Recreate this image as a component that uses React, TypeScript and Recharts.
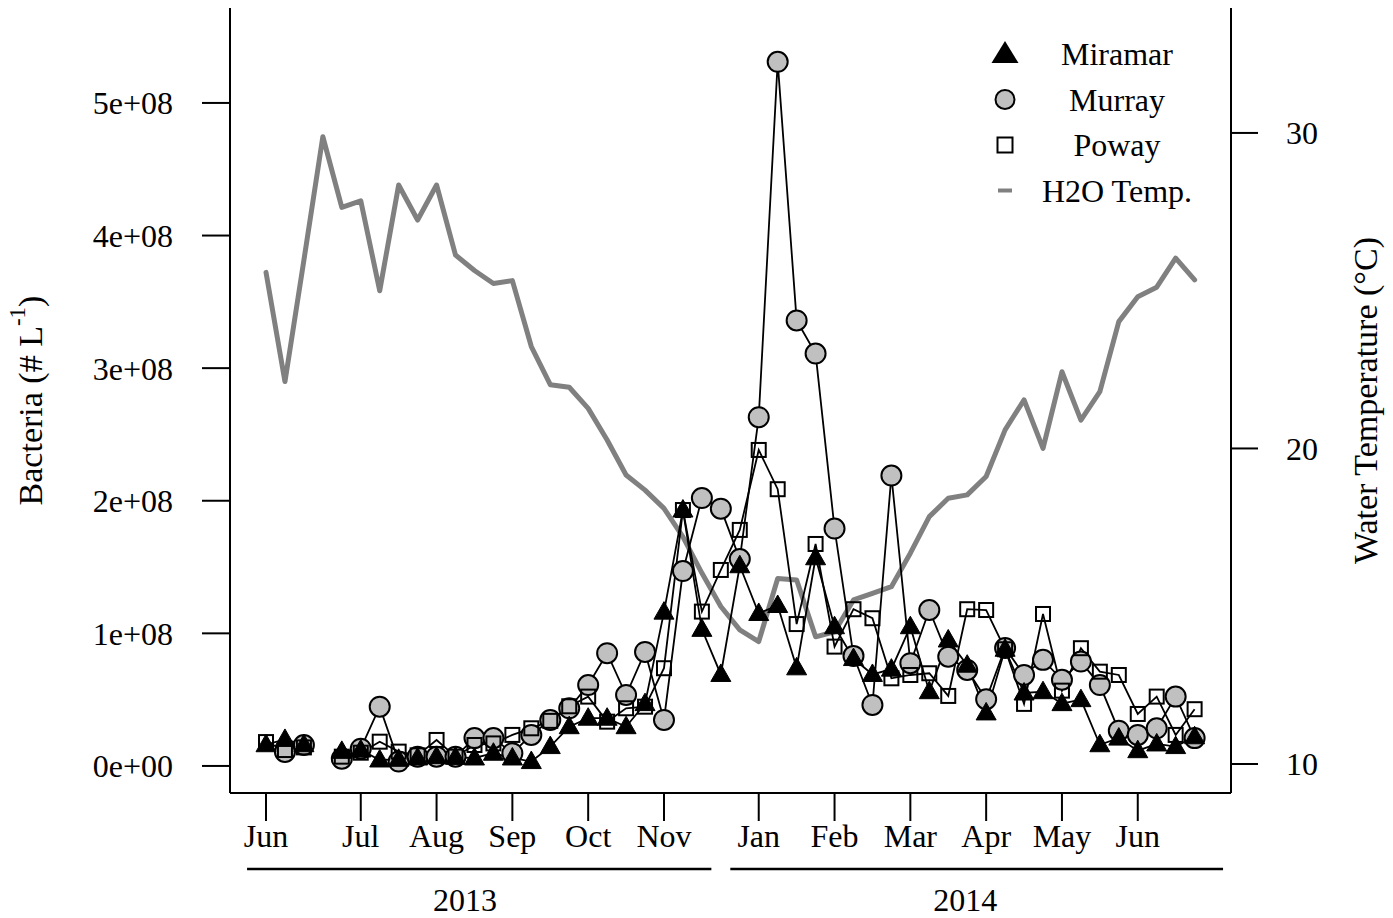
import { ComposedChart, Legend, Line, XAxis, YAxis } from "recharts";

// sample week index (weekly sampling, Jun 2013 - Jun 2014)
const weeks = [
  0, 1, 2, 3, 4, 5, 6, 7, 8, 9, 10, 11, 12, 13, 14, 15, 16, 17, 18, 19, 20, 21, 22, 23, 24,
  25, 26, 27, 28, 29, 30, 31, 32, 33, 34, 35, 36, 37, 38, 39, 40, 41, 42, 43, 44, 45, 46, 47,
  48, 49,
];

// bacteria, # per litre
const miramar = [
  16e6, 20e6, 16e6, null, 11e6, 12e6, 4.5e6, 5e6, 6e6, 7e6, 6.5e6, 6e6, 9.6e6, 6e6, 3.3e6,
  14.6e6, 29.6e6, 36e6, 36e6, 29.6e6, 47e6, 116e6, 193e6, 103e6, 69e6, 151e6, 115e6, 121e6,
  74e6, 157e6, 105e6, 81e6, 69e6, 73e6, 105e6, 56e6, 95e6, 76e6, 40e6, 88e6, 55e6, 56e6, 47e6,
  50e6, 16e6, 21e6, 11.5e6, 16.6e6, 14.6e6, 22e6,
];
const murray = [
  null, 10.6e6, 15.8e6, null, 5.5e6, 13e6, 44.7e6, 3.3e6, 7e6, 7e6, 7e6, 21e6, 21e6, 9.6e6,
  23.4e6, 34.7e6, 43.5e6, 61e6, 85e6, 53.5e6, 86e6, 34.7e6, 147e6, 202e6, 194e6, 156e6, 263e6,
  531e6, 336e6, 311e6, 179e6, 83e6, 46e6, 219e6, 77.5e6, 117.6e6, 82.4e6, 72.4e6, 50.3e6, 89e6,
  68.6e6, 80e6, 65e6, 78.7e6, 61e6, 26.6e6, 23.4e6, 28.4e6, 52.3e6, 21e6,
];
const poway = [
  18e6, 12e6, 14e6, null, 7e6, 10e6, 18.3e6, 10.8e6, 8e6, 19.6e6, 7e6, 15.8e6, 17e6, 23.4e6,
  28.4e6, 34e6, 45e6, 52.3e6, 33.4e6, 43.5e6, 44.7e6, 73.7e6, 193e6, 116.4e6, 147.8e6, 178e6,
  238.3e6, 208.7e6, 107e6, 167.4e6, 90e6, 118.2e6, 111.4e6, 66.1e6, 68.6e6, 69.9e6, 52.8e6,
  118.2e6, 117.6e6, 88e6, 46.8e6, 114.6e6, 56.8e6, 88.8e6, 71.1e6, 68.6e6, 39.2e6, 52.3e6,
  23.4e6, 42.8e6,
];

// water temperature, °C
const waterTemp = [
  25.58, 22.12, 25.97, 29.88, 27.64, 27.85, 25.0, 28.35, 27.24, 28.35, 26.13, 25.64, 25.23,
  25.32, 23.23, 22.02, 21.94, 21.27, 20.27, 19.16, 18.68, 18.1, 17.2, 16.05, 14.99, 14.25, 13.88,
  15.88, 15.83, 14.03, 14.19, 15.2, 15.41, 15.62, 16.68, 17.84, 18.42, 18.53, 19.11, 20.59,
  21.54, 20.0, 22.43, 20.9, 21.8, 24.02, 24.81, 25.11, 26.03, 25.34,
];

const monthTicks = [0, 5, 9, 13, 17, 21, 26, 30, 34, 38, 42, 46];
const monthLabels = ["Jun", "Jul", "Aug", "Sep", "Oct", "Nov", "Jan", "Feb", "Mar", "Apr", "May", "Jun"];
const bacteriaTicks = [0, 1e8, 2e8, 3e8, 4e8, 5e8];
const tempTicks = [10, 20, 30];
const years = ["2013", "2014"];
const yearCenters = [10.5, 36.9];
const yearStarts = [-1, 24.5];
const yearEnds = [23.5, 50.5];

const data = weeks.map((w, i) => ({
  week: w,
  miramar: miramar[i],
  murray: murray[i],
  poway: poway[i],
  temp: waterTemp[i],
}));

const FONT = '"Liberation Serif", "Times New Roman", Times, serif';
const W = 1393;
const H = 918;
const LEFT_W = 230;
const RIGHT_W = 162;
const PLOT_W = W - LEFT_W - RIGHT_W;
const X_MIN = -1.9;
const X_MAX = 50.92;

const tickStyle = { fill: "#000", fontSize: 32, fontFamily: FONT };
const axisLine = { stroke: "#000", strokeWidth: 2 };

function TriangleDot(p: any) {
  if (p.cx == null || p.cy == null || p.value == null) return <g key={p.index} />;
  const { cx, cy } = p;
  return (
    <polygon
      key={p.index}
      points={`${cx},${cy - 10.5} ${cx - 10},${cy + 7} ${cx + 10},${cy + 7}`}
      fill="#000"
      stroke="#000"
      strokeWidth={1}
    />
  );
}

function CircleDot(p: any) {
  if (p.cx == null || p.cy == null || p.value == null) return <g key={p.index} />;
  return <circle key={p.index} cx={p.cx} cy={p.cy} r={10} fill="#c0c0c0" stroke="#000" strokeWidth={2} />;
}

function SquareDot(p: any) {
  if (p.cx == null || p.cy == null || p.value == null) return <g key={p.index} />;
  return (
    <rect key={p.index} x={p.cx - 7} y={p.cy - 7} width={14} height={14} fill="none" stroke="#000" strokeWidth={2} />
  );
}

function YearTick(p: any) {
  const { x, y, index } = p;
  const ppu = PLOT_W / (X_MAX - X_MIN);
  const x1 = x + (yearStarts[index] - yearCenters[index]) * ppu;
  const x2 = x + (yearEnds[index] - yearCenters[index]) * ppu;
  return (
    <g>
      <line x1={x1} x2={x2} y1={y + 16} y2={y + 16} stroke="#000" strokeWidth={2.5} />
      <text x={x} y={y + 58} textAnchor="middle" fill="#000" fontSize={32} fontFamily={FONT}>
        {years[index]}
      </text>
    </g>
  );
}

function LegendBox() {
  const rows = [
    { label: "Miramar", kind: "tri" },
    { label: "Murray", kind: "circle" },
    { label: "Poway", kind: "square" },
    { label: "H2O Temp.", kind: "dash" },
  ];
  return (
    <svg width={240} height={200}>
      {rows.map((r, i) => {
        const base = 45 + i * 45.5;
        const cy = base - 11;
        const cx = 25;
        let sym = null;
        if (r.kind === "tri")
          sym = <polygon points={`${cx},${cy - 13} ${cx - 13.5},${cy + 9} ${cx + 13.5},${cy + 9}`} fill="#000" />;
        if (r.kind === "circle")
          sym = <circle cx={cx} cy={cy} r={9.5} fill="#c0c0c0" stroke="#000" strokeWidth={2} />;
        if (r.kind === "square")
          sym = <rect x={cx - 7.5} y={cy - 7.5} width={15} height={15} fill="none" stroke="#000" strokeWidth={2} />;
        if (r.kind === "dash")
          sym = <line x1={cx - 7} x2={cx + 7} y1={cy} y2={cy} stroke="#808080" strokeWidth={4} />;
        return (
          <g key={r.label}>
            {sym}
            <text x={137} y={base} textAnchor="middle" fontSize={32} fontFamily={FONT} fill="#000">
              {r.label}
            </text>
          </g>
        );
      })}
    </svg>
  );
}

function BacteriaTitle(p: any) {
  const vb = p.viewBox;
  const cx = vb.x + 30;
  const cy = vb.y + vb.height / 2;
  return (
    <text
      x={cx}
      y={cy}
      transform={`rotate(-90 ${cx} ${cy})`}
      textAnchor="middle"
      dominantBaseline="central"
      fontSize={34}
      fontFamily={FONT}
      fill="#000"
    >
      Bacteria (# L
      <tspan dy={-13} fontSize={23}>
        -1
      </tspan>
      <tspan dy={13}>)</tspan>
    </text>
  );
}

function TempTitle(p: any) {
  const vb = p.viewBox;
  const cx = vb.x + 134;
  const cy = vb.y + vb.height / 2;
  return (
    <text
      x={cx}
      y={cy}
      transform={`rotate(-90 ${cx} ${cy})`}
      textAnchor="middle"
      dominantBaseline="central"
      fontSize={34}
      fontFamily={FONT}
      fill="#000"
    >
      Water Temperature (°C)
    </text>
  );
}

export default function App() {
  return (
    <div style={{ position: "absolute", left: 0, top: 0, width: W, height: H, background: "#fff" }}>
      <ComposedChart
        width={W}
        height={H}
        data={data}
        margin={{ top: 8, right: 0, bottom: 0, left: 0 }}
        style={{ fontFamily: FONT }}
      >
        <XAxis
          xAxisId="month"
          dataKey="week"
          type="number"
          domain={[X_MIN, X_MAX]}
          allowDataOverflow
          ticks={monthTicks}
          interval={0}
          tickFormatter={(v) => monthLabels[monthTicks.indexOf(v)]}
          height={60}
          tickSize={28}
          tickMargin={3}
          axisLine={axisLine}
          tickLine={axisLine}
          tick={tickStyle}
        />
        <XAxis
          xAxisId="year"
          dataKey="week"
          type="number"
          domain={[X_MIN, X_MAX]}
          allowDataOverflow
          ticks={yearCenters}
          interval={0}
          height={65}
          tickSize={0}
          tickMargin={0}
          axisLine={false}
          tickLine={false}
          tick={<YearTick />}
        />
        <XAxis
          xAxisId="top"
          dataKey="week"
          orientation="top"
          type="number"
          domain={[X_MIN, X_MAX]}
          allowDataOverflow
          height={0}
          tick={false}
          tickLine={false}
          axisLine={axisLine}
        />
        <YAxis
          yAxisId="bac"
          width={LEFT_W}
          domain={[-20.4e6, 571.6e6]}
          allowDataOverflow
          ticks={bacteriaTicks}
          interval={0}
          tickFormatter={(v) => (v === 0 ? "0e+00" : `${v / 1e8}e+08`)}
          tickSize={28}
          tickMargin={29}
          axisLine={axisLine}
          tickLine={axisLine}
          tick={tickStyle}
          label={(p: any) => <BacteriaTitle {...p} />}
        />
        <YAxis
          yAxisId="temp"
          orientation="right"
          width={RIGHT_W}
          domain={[9.08, 33.96]}
          allowDataOverflow
          ticks={tempTicks}
          interval={0}
          tickSize={27}
          tickMargin={28}
          axisLine={axisLine}
          tickLine={axisLine}
          tick={tickStyle}
          label={(p: any) => <TempTitle {...p} />}
        />
        <Legend
          layout="horizontal"
          verticalAlign="middle"
          align="center"
          content={() => <LegendBox />}
          wrapperStyle={{ position: "absolute", left: 980, top: 20, width: 240, height: 200 }}
        />
        <Line
          xAxisId="month"
          yAxisId="temp"
          dataKey="temp"
          stroke="#808080"
          strokeWidth={5}
          strokeLinejoin="round"
          strokeLinecap="round"
          dot={false}
          activeDot={false}
          isAnimationActive={false}
        />
        <Line
          xAxisId="month"
          yAxisId="bac"
          dataKey="murray"
          stroke="none"
          dot={CircleDot}
          activeDot={false}
          isAnimationActive={false}
        />
        <Line
          xAxisId="month"
          yAxisId="bac"
          dataKey="murray"
          stroke="#000"
          strokeWidth={1.8}
          dot={false}
          activeDot={false}
          isAnimationActive={false}
        />
        <Line
          xAxisId="month"
          yAxisId="bac"
          dataKey="poway"
          stroke="none"
          dot={SquareDot}
          activeDot={false}
          isAnimationActive={false}
        />
        <Line
          xAxisId="month"
          yAxisId="bac"
          dataKey="poway"
          stroke="#000"
          strokeWidth={1.8}
          dot={false}
          activeDot={false}
          isAnimationActive={false}
        />
        <Line
          xAxisId="month"
          yAxisId="bac"
          dataKey="miramar"
          stroke="none"
          dot={TriangleDot}
          activeDot={false}
          isAnimationActive={false}
        />
        <Line
          xAxisId="month"
          yAxisId="bac"
          dataKey="miramar"
          stroke="#000"
          strokeWidth={1.8}
          dot={false}
          activeDot={false}
          isAnimationActive={false}
        />
      </ComposedChart>
    </div>
  );
}
